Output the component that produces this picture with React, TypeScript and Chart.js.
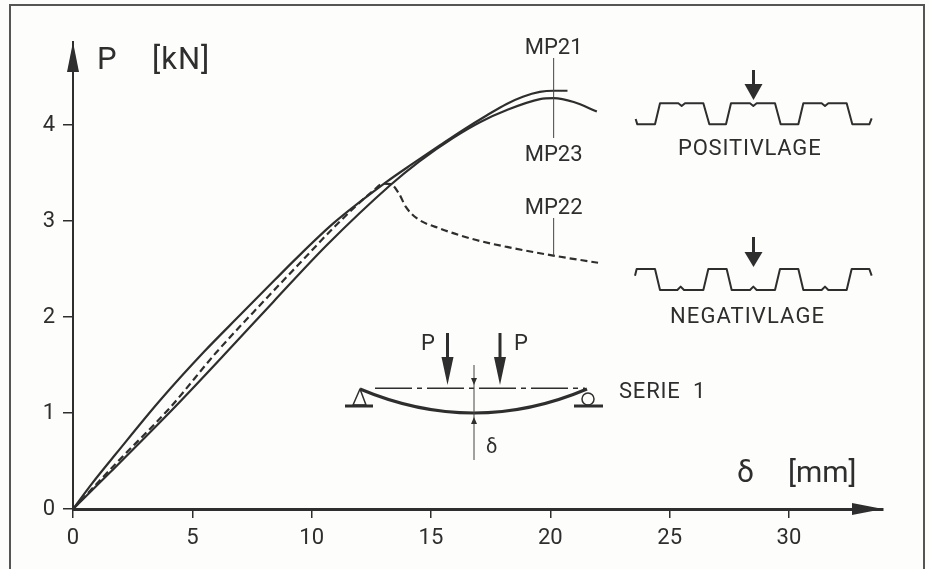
import React, { useEffect, useRef } from "react";
import { Chart, registerables } from "chart.js";

Chart.register(...registerables);

const xTickStep = 5;
const yTickStep = 1;

const mp21X = [0, 0.81, 1.8, 3.66, 5.5, 7, 8.47, 9.25, 10.93, 13.15, 14.25, 15.38, 16.35, 17.33, 18.17, 18.85, 19.56, 20.14, 20.72];
const mp21Y = [0, 0.27, 0.575, 1.135, 1.64, 2.02, 2.39, 2.585, 2.98, 3.41, 3.6, 3.79, 3.95, 4.1, 4.22, 4.295, 4.345, 4.357, 4.357];

const mp22X = [0, 1.86, 4.08, 6, 8.05, 9.5, 11, 12.6, 13, 13.3, 13.65, 13.94, 14.4, 15.4, 16.78, 18.18, 20.12, 22];
const mp22Y = [0, 0.49, 1.06, 1.63, 2.18, 2.56, 2.95, 3.32, 3.39, 3.385, 3.29, 3.15, 3.03, 2.92, 2.81, 2.73, 2.64, 2.565];

const mp23X = [0, 1.57, 4.3, 6.5, 8.4, 10.64, 13.3, 14.5, 15.95, 17.05, 18.18, 19.57, 20.14, 20.98, 21.95];
const mp23Y = [0, 0.385, 1.07, 1.65, 2.16, 2.75, 3.375, 3.62, 3.87, 4.03, 4.157, 4.27, 4.28, 4.24, 4.14];

const INK = "#2e2e2e";
const FONT = "Roboto";

function poly(ctx: CanvasRenderingContext2D, pts: number[][], ox: number, oy: number) {
  ctx.beginPath();
  pts.forEach(([x, y], i) => {
    const px = ox + x / 3;
    const py = oy + y / 3;
    if (i) ctx.lineTo(px, py);
    else ctx.moveTo(px, py);
  });
}

function arrow(ctx: CanvasRenderingContext2D, x: number, y0: number, headY: number, tipY: number, hw: number) {
  ctx.lineWidth = 3;
  ctx.beginPath();
  ctx.moveTo(x, y0);
  ctx.lineTo(x, headY);
  ctx.stroke();
  ctx.beginPath();
  ctx.moveTo(x - hw, headY);
  ctx.lineTo(x + hw, headY);
  ctx.lineTo(x, tipY);
  ctx.closePath();
  ctx.fill();
}

function text(ctx: CanvasRenderingContext2D, s: string, x: number, y: number, size: number, align: CanvasTextAlign = "left", spacing = "0px") {
  ctx.font = `${size}px ${FONT}`;
  ctx.textAlign = align;
  ctx.textBaseline = "alphabetic";
  (ctx as any).letterSpacing = spacing;
  ctx.fillText(s, x, y);
  (ctx as any).letterSpacing = "0px";
}

const pagePlugin = {
  id: "page",
  beforeDraw(chart: any) {
    const ctx: CanvasRenderingContext2D = chart.ctx;
    ctx.save();
    ctx.fillStyle = "#fdfdfc";
    ctx.fillRect(0, 0, chart.width, chart.height);
    ctx.strokeStyle = "#555";
    ctx.lineWidth = 2;
    ctx.beginPath();
    ctx.moveTo(10, 569);
    ctx.lineTo(10, 5);
    ctx.lineTo(924, 5);
    ctx.lineTo(924, 569);
    ctx.stroke();
    ctx.restore();
  },
  afterDraw(chart: any) {
    const ctx: CanvasRenderingContext2D = chart.ctx;
    const sx = chart.scales.x;
    const sy = chart.scales.y;
    const x0 = sx.getPixelForValue(0);
    const y0 = sy.getPixelForValue(0);
    ctx.save();
    ctx.fillStyle = INK;
    ctx.strokeStyle = INK;
    ctx.lineJoin = "round";
    ctx.lineCap = "butt";

    // axis arrow heads
    ctx.beginPath();
    ctx.moveTo(x0, 42);
    ctx.lineTo(x0 + 6, 72);
    ctx.lineTo(x0 - 6, 72);
    ctx.closePath();
    ctx.fill();
    ctx.beginPath();
    ctx.moveTo(883, y0);
    ctx.lineTo(852, y0 - 6);
    ctx.lineTo(852, y0 + 6);
    ctx.closePath();
    ctx.fill();

    // axis titles
    text(ctx, "P", 97, 69, 31);
    text(ctx, "[kN]", 152, 69, 31, "left", "1px");
    text(ctx, "δ", 737, 482, 30);
    text(ctx, "[mm]", 788, 482, 30);

    // leader lines
    const lx = sx.getPixelForValue(20.14);
    ctx.strokeStyle = "#444";
    ctx.lineWidth = 1;
    ctx.beginPath();
    ctx.moveTo(lx, 58);
    ctx.lineTo(lx, 138);
    ctx.moveTo(lx, 218);
    ctx.lineTo(lx, sy.getPixelForValue(2.64));
    ctx.stroke();
    text(ctx, "MP21", lx, 54, 22, "center");
    text(ctx, "MP23", lx, 161, 22, "center");
    text(ctx, "MP22", lx, 214, 22, "center");

    // positive position profile
    ctx.strokeStyle = INK;
    ctx.lineWidth = 2;
    poly(ctx, [[47, 147], [52, 163], [105, 163], [120, 100], [175, 100], [185, 108], [195, 100], [250, 100], [268, 163], [318, 163], [333, 100], [390, 100], [400, 108], [410, 100], [465, 100], [482, 163], [535, 163], [550, 100], [605, 100], [615, 108], [625, 100], [680, 100], [697, 163], [748, 163], [755, 145]], 620, 70);
    ctx.stroke();
    arrow(ctx, 753.5, 70, 84, 100, 9);
    text(ctx, "POSITIVLAGE", 678, 155, 22, "left", "0.8px");

    // negative position profile
    ctx.lineWidth = 2;
    poly(ctx, [[45, 617], [50, 597], [105, 597], [120, 660], [172, 660], [182, 650], [192, 660], [250, 660], [265, 597], [320, 597], [335, 660], [390, 660], [400, 650], [410, 660], [465, 660], [480, 597], [535, 597], [550, 660], [605, 660], [615, 650], [625, 660], [680, 660], [695, 597], [748, 597], [755, 617]], 620, 70);
    ctx.stroke();
    arrow(ctx, 753.5, 237, 252, 267, 9);
    text(ctx, "NEGATIVLAGE", 670, 323, 22, "left", "1.1px");

    // beam sketch
    ctx.lineWidth = 1.5;
    ctx.setLineDash([37, 5, 5, 5]);
    ctx.beginPath();
    ctx.moveTo(375, 388.3);
    ctx.lineTo(585, 388.3);
    ctx.stroke();
    ctx.setLineDash([]);
    ctx.lineWidth = 3;
    ctx.beginPath();
    ctx.moveTo(360, 389);
    ctx.quadraticCurveTo(474, 437, 587, 389);
    ctx.stroke();
    ctx.beginPath();
    ctx.moveTo(345, 406);
    ctx.lineTo(373, 406);
    ctx.moveTo(574, 406);
    ctx.lineTo(603, 406);
    ctx.stroke();
    ctx.lineWidth = 1.5;
    ctx.beginPath();
    ctx.moveTo(360, 389);
    ctx.lineTo(353, 405);
    ctx.lineTo(366, 405);
    ctx.closePath();
    ctx.stroke();
    ctx.beginPath();
    ctx.arc(588, 399, 6, 0, Math.PI * 2);
    ctx.stroke();
    arrow(ctx, 447.5, 333, 357, 385, 6);
    arrow(ctx, 500, 333, 357, 385, 6);
    ctx.strokeStyle = "#444";
    ctx.lineWidth = 1;
    ctx.beginPath();
    ctx.moveTo(474, 365);
    ctx.lineTo(474, 460);
    ctx.stroke();
    ctx.beginPath();
    ctx.moveTo(471, 378);
    ctx.lineTo(477, 378);
    ctx.lineTo(474, 385);
    ctx.closePath();
    ctx.moveTo(471, 424);
    ctx.lineTo(477, 424);
    ctx.lineTo(474, 417);
    ctx.closePath();
    ctx.fill();
    text(ctx, "P", 421, 350, 22);
    text(ctx, "P", 514, 350, 22);
    text(ctx, "δ", 486, 453, 20);
    text(ctx, "SERIE", 619, 398, 22, "left", "0.8px");
    text(ctx, "1", 693, 398, 22);
    ctx.restore();
  },
};

export default function App() {
  const ref = useRef<HTMLCanvasElement | null>(null);
  useEffect(() => {
    if (!ref.current) return;
    const toPts = (xs: number[], ys: number[]) => xs.map((x, i) => ({ x, y: ys[i] }));
    const line = { showLine: true, pointRadius: 0, borderColor: INK, borderWidth: 2.2, cubicInterpolationMode: "monotone" as const, fill: false };
    const chart = new Chart(ref.current, {
      type: "scatter",
      data: {
        datasets: [
          { label: "MP21", data: toPts(mp21X, mp21Y), ...line },
          { label: "MP22", data: toPts(mp22X, mp22Y), ...line, borderDash: [7, 4] },
          { label: "MP23", data: toPts(mp23X, mp23Y), ...line },
        ],
      },
      options: {
        animation: false,
        responsive: false,
        devicePixelRatio: 1,
        layout: { padding: { left: 0, right: 47, top: 42, bottom: 0 } },
        plugins: { legend: { display: false }, tooltip: { enabled: false } },
        scales: {
          x: {
            type: "linear",
            min: 0,
            max: 33.94,
            afterFit: (s: any) => { s.height = 60; },
            border: { color: INK, width: 3 },
            grid: { drawOnChartArea: false, drawTicks: true, tickLength: 9, color: INK, lineWidth: 1.5 },
            ticks: { stepSize: xTickStep, includeBounds: false, autoSkip: false, maxRotation: 0, padding: 7, color: INK, font: { family: FONT, size: 22 } },
          },
          y: {
            type: "linear",
            min: 0,
            max: 4.865,
            afterFit: (s: any) => { s.width = 73; },
            border: { color: INK, width: 2 },
            grid: { drawOnChartArea: false, drawTicks: true, tickLength: 10, color: INK, lineWidth: 1.5 },
            ticks: { stepSize: yTickStep, includeBounds: false, autoSkip: false, padding: 8, color: INK, font: { family: FONT, size: 22 } },
          },
        },
      } as any,
      plugins: [pagePlugin],
    });
    return () => chart.destroy();
  }, []);
  return (
    <div style={{ position: "fixed", left: 0, top: 0, width: 930, height: 569 }}>
      <canvas ref={ref} width={930} height={569} style={{ display: "block" }} />
    </div>
  );
}
